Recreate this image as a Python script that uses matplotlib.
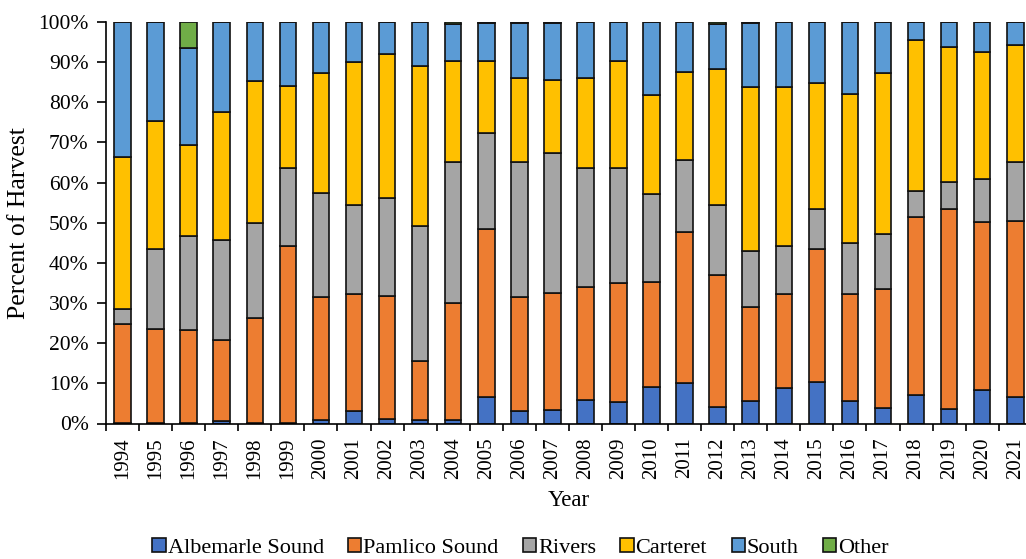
import matplotlib
matplotlib.use("Agg")
import matplotlib.pyplot as plt
import numpy as np
from matplotlib.ticker import FuncFormatter, FixedLocator

years = [str(y) for y in range(1994, 2022)]
albemarle = [0.2, 0.1, 0.2, 0.7, 0.1, 0.2, 0.9, 3.0, 1.1, 0.8, 0.8, 6.5, 3.2, 3.4,
             5.8, 5.4, 9.1, 10.0, 4.0, 5.6, 8.9, 10.4, 5.6, 3.9, 7.1, 3.7, 8.4, 6.5]
pamlico = [24.7, 23.5, 23.2, 20.1, 26.2, 44.0, 30.5, 29.2, 30.7, 14.7, 29.3, 41.9, 28.4, 29.2,
           28.3, 29.5, 26.2, 37.8, 33.0, 23.5, 23.3, 33.1, 26.6, 29.7, 44.4, 49.7, 41.8, 43.9]
rivers = [3.5, 19.9, 23.4, 25.0, 23.7, 19.5, 26.1, 22.1, 24.3, 33.8, 35.1, 23.9, 33.5, 34.7,
          29.6, 28.8, 21.9, 17.8, 17.4, 13.8, 12.0, 9.9, 12.8, 13.7, 6.5, 6.8, 10.8, 14.7]
carteret = [38.0, 31.8, 22.5, 31.7, 35.3, 20.3, 29.8, 35.7, 35.9, 39.8, 25.2, 18.1, 21.0, 18.2,
            22.3, 26.7, 24.7, 21.9, 33.9, 40.9, 39.6, 31.5, 37.1, 40.0, 37.4, 33.5, 31.6, 29.1]
south = [33.6, 24.7, 24.1, 22.5, 14.7, 16.0, 12.7, 10.0, 8.0, 10.9, 9.0, 9.4, 13.6, 14.3,
         14.0, 9.6, 18.1, 12.5, 11.3, 15.9, 16.2, 15.1, 17.9, 12.7, 4.6, 6.3, 7.4, 5.8]
other = [0, 0, 6.6, 0, 0, 0, 0, 0, 0, 0, 0.6, 0.2, 0.3, 0.2,
         0, 0, 0, 0, 0.4, 0.3, 0, 0, 0, 0, 0, 0, 0, 0]

series = [
    ("Albemarle Sound", albemarle, "#4472C4"),
    ("Pamlico Sound", pamlico, "#ED7D31"),
    ("Rivers", rivers, "#A5A5A5"),
    ("Carteret", carteret, "#FFC000"),
    ("South", south, "#5B9BD5"),
    ("Other", other, "#70AD47"),
]

plt.rcParams['font.family'] = ['Liberation Serif', 'DejaVu Serif']

fig = plt.figure(figsize=(10.26, 5.59), dpi=100)
ax = fig.add_axes([106/1026, (559-423.5)/559, (1031.8-106)/1026, (423.5-22)/559])

x = np.arange(len(years))
bottom = np.zeros(len(years))
totals = np.sum([np.array(s[1]) for s in series], axis=0)
for name, vals, col in series:
    v = np.array(vals) / totals * 100
    ax.bar(x, v, width=0.5, bottom=bottom, color=col, edgecolor='#111111',
           linewidth=1.2, label=name)
    bottom += v

ax.set_xlim(-0.5, len(years) - 0.5)
ax.set_ylim(0, 100)
ax.set_yticks(np.arange(0, 101, 10))
ax.yaxis.set_major_formatter(FuncFormatter(lambda v, p: f"{int(v)}%"))
ax.set_xticks(x)
ax.set_xticklabels(years, rotation=90, fontsize=15)
ax.xaxis.set_minor_locator(FixedLocator(np.arange(-0.5, len(years), 1)))
ax.tick_params(axis='x', which='major', length=0, pad=10)
ax.tick_params(axis='x', which='minor', length=5, width=1.2, color='black')
ax.tick_params(axis='y', which='major', length=6.5, width=1.2, labelsize=15.5, pad=6)
for s in ['top', 'right']:
    ax.spines[s].set_visible(False)
for s in ['left', 'bottom']:
    ax.spines[s].set_linewidth(1.2)
    ax.spines[s].set_color('black')

ax.set_ylabel("Percent of Harvest", fontsize=18.5, labelpad=6)
ax.set_xlabel("Year", fontsize=16.5, labelpad=8)

handles, labels = ax.get_legend_handles_labels()
fig.legend(handles, labels, loc='center', bbox_to_anchor=(520.5/1026, (559-548)/559),
           ncol=6, frameon=False, fontsize=16, handlelength=0.6, handleheight=0.6,
           handletextpad=0.08, columnspacing=1.1, borderaxespad=0)

fig.savefig("out.png", dpi=100)
